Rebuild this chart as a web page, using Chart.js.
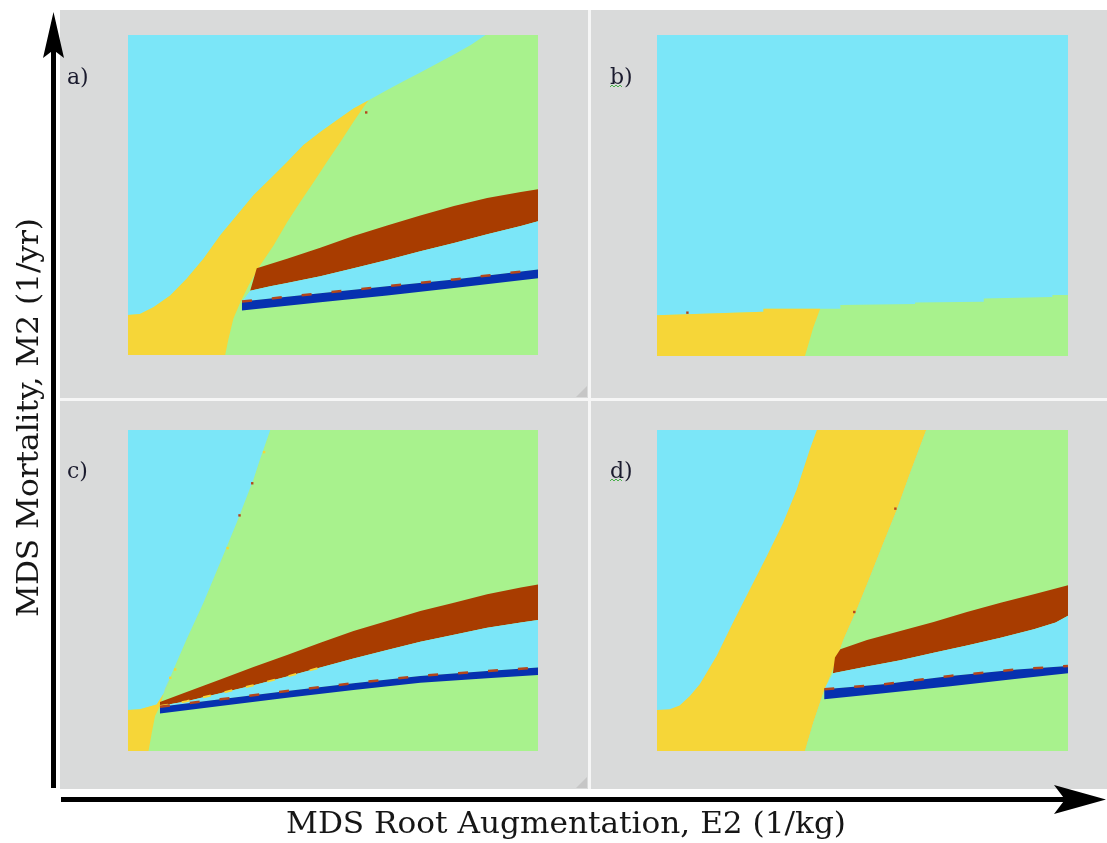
<!DOCTYPE html>
<html>
<head>
<meta charset="utf-8">
<title>MDS regime maps</title>
<script src="https://cdn.jsdelivr.net/npm/chart.js@4.4.1/dist/chart.umd.min.js"></script>
<style>
  html, body { margin: 0; padding: 0; background: #ffffff; }
  #stage { position: relative; width: 1107px; height: 843px; overflow: hidden; }
  .backdrop { position: absolute; left: 60px; top: 10px; width: 1047px; height: 779px; background: #d9dada; }
  .vsep { position: absolute; left: 588px; top: 10px; width: 3px; height: 779px; background: #f6f6f6; }
  .hsep { position: absolute; left: 60px; top: 398px; width: 1047px; height: 3px; background: #f6f6f6; }
  canvas.panel { position: absolute; }
  svg.frame { position: absolute; left: 0; top: 0; pointer-events: none; }
</style>
</head>
<body>
<div id="stage">
  <div class="backdrop"></div>
  <div class="vsep"></div>
  <div class="hsep"></div>

  <canvas id="panelA" class="panel" width="410" height="320" style="left:128px;top:35px"></canvas>
  <canvas id="panelB" class="panel" width="411" height="321" style="left:657px;top:35px"></canvas>
  <canvas id="panelC" class="panel" width="410" height="321" style="left:128px;top:430px"></canvas>
  <canvas id="panelD" class="panel" width="411" height="321" style="left:657px;top:430px"></canvas>

  <svg class="frame" width="1107" height="843" viewBox="0 0 1107 843">
    <!-- window resize grips -->
    <polygon points="587,386 587,397 576,397" fill="#c6c6c6"/>
    <polygon points="587,777 587,788 576,788" fill="#c6c6c6"/>

    <!-- axis arrows -->
    <line x1="53.5" y1="788" x2="53.5" y2="45" stroke="#000" stroke-width="5"/>
    <polygon points="53.5,12 64,58 53.5,50 43,58" fill="#000"/>
    <line x1="61" y1="799.5" x2="1070" y2="799.5" stroke="#000" stroke-width="5"/>
    <polygon points="1106,799.5 1054,785 1065,799.5 1054,814" fill="#000"/>

    <!-- axis titles -->
    <text transform="translate(38,617) rotate(-90)" font-family="DejaVu Serif" font-size="30"
          textLength="399" lengthAdjust="spacingAndGlyphs" fill="#161616">MDS Mortality, M2 (1/yr)</text>
    <text x="286" y="833" font-family="DejaVu Serif" font-size="29"
          textLength="560" lengthAdjust="spacingAndGlyphs" fill="#161616">MDS Root Augmentation, E2 (1/kg)</text>

    <!-- panel tags -->
    <text x="67" y="84" font-family="DejaVu Serif" font-size="22" fill="#1b1b2e">a)</text>
    <text x="610" y="84" font-family="DejaVu Serif" font-size="22" fill="#1b1b2e">b)</text>
    <text x="67" y="478" font-family="DejaVu Serif" font-size="22" fill="#1b1b2e">c)</text>
    <text x="610" y="478" font-family="DejaVu Serif" font-size="22" fill="#1b1b2e">d)</text>
    <polyline points="610,87 612,85 614,87 616,85 618,87 620,85 622,87" fill="none" stroke="#49b04a" stroke-width="1"/>
    <polyline points="610,481 612,479 614,481 616,479 618,481 620,479 622,481" fill="none" stroke="#49b04a" stroke-width="1"/>
  </svg>
</div>

<script>
// Regime boundaries in the (E2, M2) plane, both axes scaled 0–1.
// Each entry is [E2, M2].

// a)
const aSkyEdge = [[0,0.125],[0.029,0.128],[0.062,0.149],[0.103,0.186],[0.143,0.238],[0.184,0.301],
  [0.225,0.374],[0.265,0.436],[0.306,0.499],[0.347,0.551],[0.388,0.603],[0.428,0.656],[0.469,0.697],
  [0.510,0.734],[0.550,0.770],[0.587,0.796],[0.632,0.828],[0.673,0.856],[0.713,0.883],[0.754,0.911],
  [0.795,0.939],[0.836,0.969],[0.872,1]];
const aYellowEdge = [[0.237,0],[0.245,0.050],[0.257,0.113],[0.274,0.165],[0.294,0.217],[0.322,0.280],
  [0.355,0.342],[0.388,0.415],[0.420,0.478],[0.453,0.541],[0.485,0.603],[0.518,0.666],[0.550,0.729],
  [0.575,0.776],[0.587,0.796]];
const aBrownTop = [[0.314,0.271],[0.388,0.301],[0.469,0.335],[0.550,0.372],[0.632,0.405],[0.713,0.436],
  [0.795,0.466],[0.876,0.491],[0.958,0.509],[1,0.518]];
const aBrownBottom = [[0.298,0.201],[0.347,0.215],[0.388,0.225],[0.469,0.246],[0.550,0.271],[0.632,0.297],
  [0.713,0.324],[0.795,0.350],[0.876,0.377],[0.958,0.403],[1,0.418]];
const aBlueTop = [[0.278,0.167],[0.469,0.193],[0.632,0.215],[0.795,0.236],[1,0.267]];
const aBlueBottom = [[0.278,0.139],[0.469,0.165],[0.632,0.186],[0.795,0.209],[1,0.240]];
const aSpots = [[0.581,0.758]];

// b)
const bSkyEdge = [[0,0.127],[0.259,0.138],[0.259,0.147],[0.446,0.147],[0.446,0.159],[0.628,0.162],
  [0.628,0.167],[0.795,0.169],[0.795,0.179],[0.962,0.184],[0.962,0.190],[1,0.190]];
const bYellowEdge = [[0.360,0],[0.372,0.052],[0.380,0.088],[0.389,0.119],[0.397,0.147]];
const bSpots = [[0.074,0.135]];

// c)
const cSkyEdge = [[0,0.128],[0.029,0.130],[0.070,0.145],[0.086,0.177],[0.111,0.254],[0.143,0.348],
  [0.184,0.462],[0.225,0.587],[0.265,0.711],[0.306,0.846],[0.322,0.909],[0.347,1]];
const cYellowEdge = [[0.050,0],[0.058,0.057],[0.066,0.109],[0.078,0.140],[0.090,0.192],[0.103,0.234]];
const cBrownTop = [[0.078,0.153],[0.143,0.184],[0.225,0.223],[0.306,0.262],[0.388,0.299],[0.469,0.337],
  [0.550,0.374],[0.632,0.405],[0.713,0.436],[0.795,0.462],[0.876,0.488],[0.958,0.509],[1,0.519]];
const cBrownBottom = [[0.078,0.140],[0.143,0.155],[0.225,0.180],[0.306,0.205],[0.388,0.232],[0.469,0.260],
  [0.550,0.288],[0.632,0.315],[0.713,0.340],[0.795,0.362],[0.876,0.384],[0.958,0.400],[1,0.408]];
const cBlueTop = [[0.078,0.138],[0.225,0.161],[0.388,0.187],[0.550,0.211],[0.713,0.234],[0.876,0.249],[1,0.260]];
const cBlueBottom = [[0.078,0.117],[0.225,0.140],[0.388,0.166],[0.550,0.190],[0.713,0.213],[0.876,0.227],[1,0.237]];
const cRustSpots = [[0.303,0.834],[0.272,0.734]];
const cGoldSpots = [[0.332,0.931],[0.243,0.632],[0.115,0.254],[0.103,0.228]];

// d)
const dSkyEdge = [[0,0.128],[0.031,0.130],[0.055,0.142],[0.080,0.171],[0.104,0.208],[0.145,0.296],
  [0.185,0.400],[0.226,0.504],[0.267,0.607],[0.307,0.711],[0.340,0.815],[0.372,0.940],[0.389,1]];
const dYellowEdge = [[0.360,0],[0.380,0.088],[0.405,0.182],[0.428,0.254],[0.454,0.348],[0.486,0.441],
  [0.519,0.545],[0.551,0.649],[0.584,0.753],[0.616,0.867],[0.655,1]];
const dBrownTop = [[0.433,0.291],[0.446,0.317],[0.511,0.346],[0.592,0.374],[0.673,0.402],[0.754,0.433],
  [0.836,0.462],[0.917,0.488],[1,0.516]];
const dBrownBottom = [[0.428,0.242],[0.511,0.263],[0.592,0.283],[0.673,0.306],[0.754,0.329],[0.836,0.353],
  [0.917,0.379],[0.970,0.400],[1,0.421]];
const dBlueTop = [[0.407,0.192],[0.551,0.208],[0.714,0.234],[0.876,0.254],[1,0.265]];
const dBlueBottom = [[0.407,0.161],[0.551,0.180],[0.714,0.202],[0.876,0.225],[1,0.242]];
const dSpots = [[0.580,0.755],[0.480,0.433]];

// Whole plotting window
const fullWindow = [[0,0],[0,1],[1,1],[1,0]];

const C = {
  sky: '#7be6f8',
  meadow: '#a8f28d',
  gold: '#f6d638',
  rust: '#a83c00',
  navy: '#0631b0',
  fleck: '#b4461c'
};

const rev = a => a.slice().reverse();
const xy = a => a.map(([x, y]) => ({ x, y }));
const last = a => a[a.length - 1];

function region(points, color) {
  return { data: xy(points), fill: 'shape', backgroundColor: color, borderColor: color,
           borderWidth: 0, pointRadius: 0, tension: 0 };
}
function dashed(points, color, width, dash) {
  return { data: xy(points), fill: false, borderColor: color, borderWidth: width,
           borderDash: dash, pointRadius: 0, tension: 0 };
}
function spots(points, color) {
  return { data: xy(points), showLine: false, fill: false, pointRadius: 1.7, pointStyle: 'rect',
           pointBackgroundColor: color, pointBorderWidth: 0 };
}

// Layers are listed bottom to top
function drawPanel(id, layers) {
  const n = layers.length;
  layers.forEach((d, i) => { d.order = n - i; });
  new Chart(document.getElementById(id), {
    type: 'line',
    data: { datasets: layers },
    options: {
      responsive: false,
      animation: false,
      events: [],
      layout: { padding: 0, autoPadding: false },
      plugins: { legend: { display: false }, tooltip: { enabled: false } },
      scales: {
        x: { type: 'linear', min: 0, max: 1, display: false },
        y: { type: 'linear', min: 0, max: 1, display: false }
      }
    }
  });
}

const aTip = last(aYellowEdge);
drawPanel('panelA', [
  region(fullWindow, C.sky),
  region([[0,0], ...aSkyEdge, [1,1], [1,0]], C.meadow),
  region([[0,0], ...aSkyEdge.filter(p => p[0] < aTip[0]), ...rev(aYellowEdge)], C.gold),
  region([...aBrownTop, ...rev(aBrownBottom)], C.rust),
  region([...aBrownBottom, ...rev(aBlueTop)], C.sky),
  region([...aBlueTop, ...rev(aBlueBottom)], C.navy),
  dashed(aBlueTop, C.fleck, 2.5, [10, 20]),
  spots(aSpots, C.fleck)
]);

const bTop = last(bYellowEdge);
drawPanel('panelB', [
  region(fullWindow, C.sky),
  region([[0,0], ...bSkyEdge, [1,0]], C.meadow),
  region([[0,0], ...bSkyEdge.filter(p => p[0] < bTop[0]), ...rev(bYellowEdge)], C.gold),
  spots(bSpots, C.fleck)
]);

const cTop = last(cYellowEdge);
drawPanel('panelC', [
  region(fullWindow, C.sky),
  region([[0,0], ...cSkyEdge, [1,1], [1,0]], C.meadow),
  region([[0,0], ...cSkyEdge.filter(p => p[1] < cTop[1]), ...rev(cYellowEdge)], C.gold),
  region([...cBrownTop, ...rev(cBrownBottom)], C.rust),
  region([...cBrownBottom, ...rev(cBlueTop)], C.sky),
  region([...cBlueTop, ...rev(cBlueBottom)], C.navy),
  dashed(cBrownBottom.slice(0, 6), C.gold, 2, [8, 14]),
  dashed(cBlueTop, C.fleck, 2.5, [10, 20]),
  spots(cRustSpots, C.fleck),
  spots(cGoldSpots, C.gold)
]);

drawPanel('panelD', [
  region(fullWindow, C.sky),
  region([...dYellowEdge, [1,1], [1,0]], C.meadow),
  region([[0,0], ...dSkyEdge, ...rev(dYellowEdge)], C.gold),
  region([...dBrownTop, ...rev(dBrownBottom)], C.rust),
  region([...dBrownBottom, ...rev(dBlueTop)], C.sky),
  region([...dBlueTop, ...rev(dBlueBottom)], C.navy),
  dashed(dBlueTop, C.fleck, 2.5, [10, 20]),
  spots(dSpots, C.fleck)
]);
</script>
</body>
</html>
